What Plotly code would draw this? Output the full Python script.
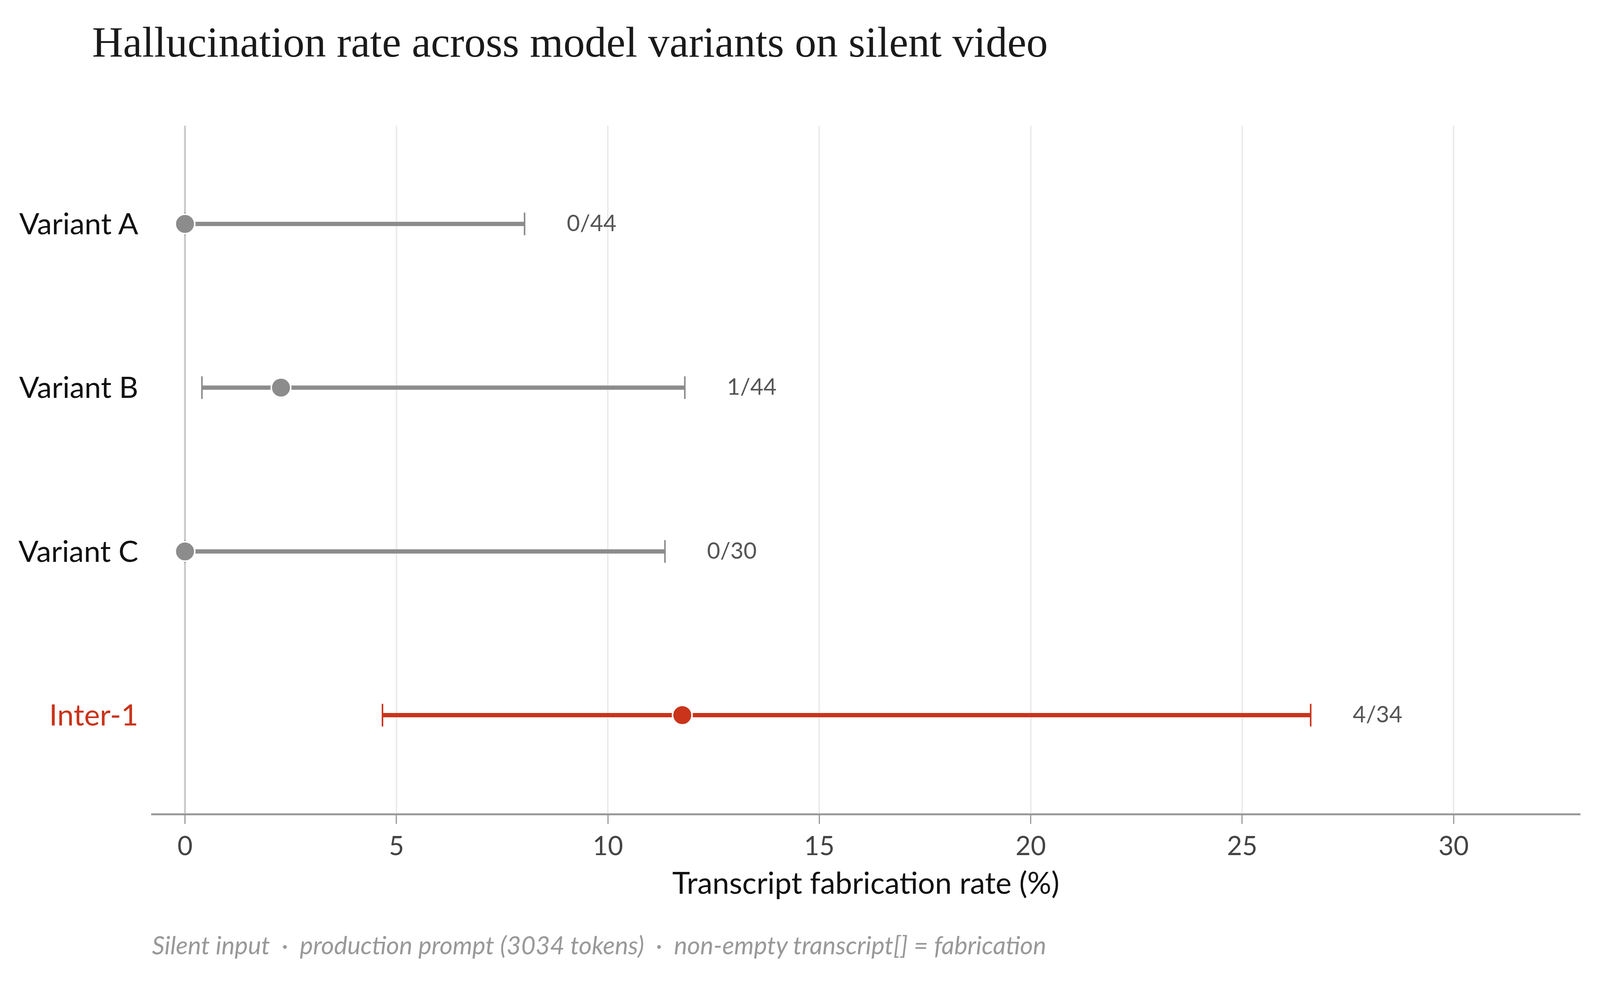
import plotly.graph_objects as go

# data
models = ["Variant A", "Variant B", "Variant C", "Inter-1"]
rate = [0.0, 2.27, 0.0, 11.76]
ci_low = [0.0, 0.40, 0.0, 4.67]
ci_high = [8.03, 11.82, 11.35, 26.62]
counts = ["0/44", "1/44", "0/30", "4/34"]

GREY = "#8c8c8c"
RED = "#c9341a"
colors = [GREY, GREY, GREY, RED]
ypos = list(range(len(models)))

# the browser viewport is narrower than 4612, so the 4612x2538 design
# is drawn on a canvas that fits it: kx for widths, ky for heights
W, H = 4070, 2495
KX = W / 4612
KY = H / 2538
KF = 0.90  # font scale


def sx(v):
    return round(v * KX)


def sy(v):
    return round(v * KY)


def sf(v):
    return round(v * KF)


fig = go.Figure()

# thick interval lines
for i in ypos:
    fig.add_trace(go.Scatter(
        x=[ci_low[i], ci_high[i]], y=[i, i], mode="lines",
        line=dict(color=colors[i], width=sy(11)),
        hoverinfo="skip", showlegend=False))

# point estimate + thin caps
for i in ypos:
    fig.add_trace(go.Scatter(
        x=[rate[i]], y=[i], mode="markers",
        marker=dict(size=sf(56), color=colors[i],
                    line=dict(color="white", width=4)),
        error_x=dict(type="data", symmetric=False,
                     array=[ci_high[i] - rate[i]],
                     arrayminus=[rate[i] - ci_low[i]],
                     color=colors[i], thickness=sx(4), width=sy(29)),
        showlegend=False))

# n/N labels right of each interval
for i in ypos:
    fig.add_annotation(x=ci_high[i], y=i, text=counts[i], showarrow=False,
                       xanchor="left", yanchor="middle",
                       xshift=sx(120), yshift=sy(4),
                       font=dict(family="Lato", size=sf(65), color="#555555"))

fig.add_annotation(
    text="Silent input  ·  production prompt (3034 tokens)  ·  non-empty transcript[] = fabrication",
    xref="paper", yref="paper", x=0, y=0, xanchor="left", yanchor="middle",
    yshift=sy(-342), showarrow=False,
    font=dict(family="Lato", size=sf(71), color="#999999", style="italic"))

ticktext = [m if c == GREY else f'<span style="color:{RED}">{m}</span>'
            for m, c in zip(models, colors)]

fig.update_layout(
    width=W, height=H,
    paper_bgcolor="white", plot_bgcolor="white",
    margin=dict(l=sx(429), r=sx(36), t=sy(319), b=sy(427)),
    title=dict(text="Hallucination rate across model variants on silent video",
               xref="container", yref="container", x=258 / 4612, xanchor="left",
               y=1 - 100 / 2538, yanchor="middle",
               font=dict(family="Liberation Serif", size=sf(122), color="#1a1a1a")),
    xaxis=dict(range=[-0.8, 33.0], tickvals=[0, 5, 10, 15, 20, 25, 30],
               showgrid=True, gridcolor="#ebebeb", gridwidth=sx(4),
               zeroline=True, zerolinecolor="#cccccc", zerolinewidth=sx(6),
               showline=True, linecolor="#999999", linewidth=sy(5),
               ticks="outside", ticklen=sy(22), tickwidth=sx(3), tickcolor="#999999",
               tickfont=dict(family="Lato", size=sf(74), color="#444444"),
               title=dict(text="Transcript fabrication rate (%)", standoff=sy(34),
                          font=dict(family="Lato", size=sf(86), color="#111111"))),
    yaxis=dict(range=[3.6, -0.6], tickvals=ypos, ticktext=ticktext,
               showgrid=False, zeroline=False, showline=False, ticks="",
               ticklabelstandoff=sx(36),
               tickfont=dict(family="Lato", size=sf(84), color="#111111")),
)

fig.write_html("out.html")
